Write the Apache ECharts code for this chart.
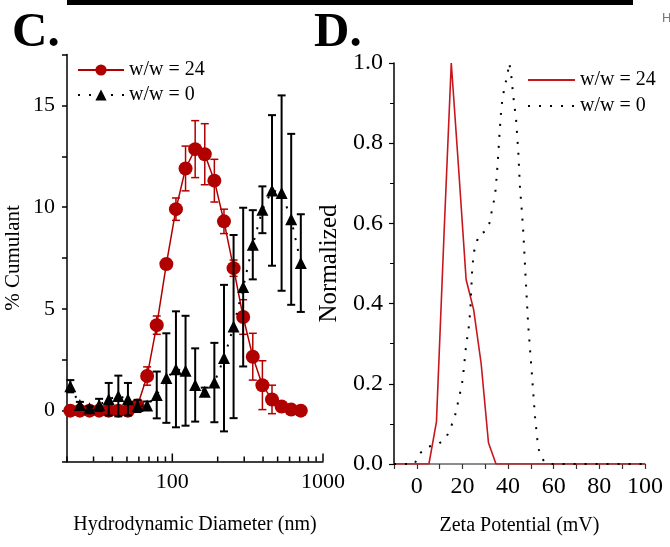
<!DOCTYPE html>
<html>
<head>
<meta charset="utf-8">
<script src="https://cdn.jsdelivr.net/npm/echarts@6/dist/echarts.min.js"></script>
<style>html,body{margin:0;padding:0;background:#fff;}#c{width:670px;height:547px;}</style>
</head>
<body>
<div id="c"></div>
<script>
// ---- Panel C: hydrodynamic diameter distribution ----
const sizeBins = [21.04, 24.36, 28.21, 32.67, 37.84, 43.82, 50.75, 58.77, 68.06, 78.82, 91.28, 105.7, 122.4, 141.8, 164.2, 190.1, 220.2, 255.0, 295.3, 342.0, 396.1, 458.7, 531.2, 615.1, 712.4];
const cumulant24 = [0, 0, 0, 0, 0, 0, 0, 0.25, 1.7, 4.2, 7.2, 9.9, 11.9, 12.85, 12.6, 11.3, 9.3, 7.0, 4.6, 2.65, 1.25, 0.55, 0.2, 0.05, 0];
const cumulant24Err = [0, 0, 0, 0, 0, 0, 0, 0.2, 0.45, 0.45, 0.25, 0.55, 1.1, 1.4, 1.5, 1.05, 0.6, 0.4, 0.85, 1.15, 1.2, 0.7, 0, 0, 0];
const cumulant0 = [1.2, 0.28, 0.12, 0.28, 0.56, 0.72, 0.56, 0.23, 0.25, 0.77, 1.6, 2.03, 1.96, 1.26, 0.93, 1.38, 2.58, 4.13, 6.07, 8.15, 9.87, 10.82, 10.69, 9.4, 7.25];
const cumulant0Err = [0.3, 0.15, 0.1, 0.3, 0.8, 1.0, 0.8, 0.3, 0.2, 1.15, 2.2, 2.85, 2.7, 1.8, 0.2, 1.95, 3.6, 4.5, 3.9, 1.7, 1.15, 3.7, 4.8, 4.2, 2.4];
const diameterLabels = [100, 1000];
const diameterMinorTicks = [20, 30, 40, 50, 60, 70, 80, 90, 200, 300, 400, 500, 600, 700, 800, 900];
const cumulantLabels = [0, 5, 10, 15];

// ---- Panel D: zeta potential distribution ----
const zeta24X = [-10, 5.3, 8.6, 11.9, 15.1, 18.4, 21.6, 24.9, 28.2, 31.4, 34.7, 100];
const zeta24Y = [0, 0, 0.105, 0.57, 1.0, 0.73, 0.46, 0.385, 0.25, 0.053, 0, 0];
const zeta0X = [-10, -1, 1, 5, 9.5, 12.8, 15, 16.8, 18.7, 20.1, 21.5, 22.9, 23.5, 24.3, 25.1, 27.2, 30, 31.8, 33, 34.3, 35, 35.7, 36.3, 37, 37.6, 38.6, 39.7, 40.5, 41.3, 42.3, 43.5, 44.5, 45.2, 46.0, 46.7, 47.7, 48.8, 50.3, 51.8, 52.8, 53.5, 55.4, 57, 100];
const zeta0Y = [0, 0, 0.025, 0.043, 0.05, 0.065, 0.093, 0.122, 0.17, 0.21, 0.29, 0.347, 0.39, 0.49, 0.53, 0.572, 0.58, 0.6, 0.635, 0.67, 0.716, 0.773, 0.829, 0.885, 0.914, 0.943, 0.97, 1.0, 0.974, 0.916, 0.86, 0.775, 0.69, 0.633, 0.575, 0.463, 0.347, 0.234, 0.118, 0.062, 0.035, 0.01, 0, 0];
const zetaLabels = [0, 20, 40, 60, 80, 100];

const FONT = "'Liberation Serif', 'Times New Roman', serif";
const RED = '#b00000';
const RED2 = '#c8161d';
const DOT = [2, 9];

function zip(a, b, c) { return a.map((v, i) => c ? [v, b[i], c[i]] : [v, b[i]]); }

function errRender(color, capHalf, lw) {
  return function (params, api) {
    const x = api.value(0), y = api.value(1), e = api.value(2);
    if (!e) return null;
    const t = api.coord([x, y + e]);
    const b = api.coord([x, y - e]);
    const st = { stroke: color, lineWidth: lw };
    return {
      type: 'group',
      children: [
        { type: 'line', shape: { x1: t[0], y1: t[1], x2: b[0], y2: b[1] }, style: st },
        { type: 'line', shape: { x1: t[0] - capHalf, y1: t[1], x2: t[0] + capHalf, y2: t[1] }, style: st },
        { type: 'line', shape: { x1: b[0] - capHalf, y1: b[1], x2: b[0] + capHalf, y2: b[1] }, style: st }
      ]
    };
  };
}

// inward tick marks for the log diameter axis: x from the axis scale, y at the grid bottom
function tickRender(params, api) {
  const v = api.value(0), len = api.value(2);
  const px = api.coord([v, 0])[0];
  const cs = params.coordSys;
  const yb = cs.y + cs.height;
  return {
    type: 'line',
    shape: { x1: px, y1: yb, x2: px, y2: yb - len },
    style: { stroke: '#000', lineWidth: 1.5 }
  };
}
const tickData = diameterMinorTicks.map(v => [v, 0, 5]).concat(diameterLabels.map(v => [v, 0, 8]));

const chart = echarts.init(document.getElementById('c'), null, { renderer: 'canvas' });

const axisLine = { show: true, onZero: false, lineStyle: { color: '#000', width: 1.5 } };
const labelStyle = { color: '#000', fontFamily: FONT, fontSize: 22 };
const labelStyleD = { color: '#000', fontFamily: FONT, fontSize: 24 };
const nameStyle = { color: '#000', fontFamily: FONT, fontSize: 20 };

chart.setOption({
  animation: false,
  backgroundColor: '#fff',
  graphic: [
    { type: 'rect', shape: { x: 67, y: 0, width: 566, height: 5 }, style: { fill: '#000' } },
    { type: 'text', left: 12, top: 9, style: { text: 'C.', font: 'bold 49px ' + FONT, fill: '#000' } },
    { type: 'text', left: 314, top: 9, style: { text: 'D.', font: 'bold 49px ' + FONT, fill: '#000' } },
    { type: 'text', left: 662, top: 12, style: { text: 'H', font: '13px sans-serif', fill: '#777' } }
  ],
  legend: [
    {
      data: ['w/w = 24', 'w/w = 0'], orient: 'vertical', left: 77, top: 60, padding: 0,
      itemWidth: 46, itemHeight: 14, itemGap: 5,
      textStyle: { color: '#000', fontFamily: FONT, fontSize: 20 }, selectedMode: false
    },
    {
      data: ['w/w = 24 ', 'w/w = 0 '], orient: 'vertical', left: 527, top: 70, padding: 0,
      itemWidth: 47, itemHeight: 14, itemGap: 6,
      itemStyle: { color: 'rgba(0,0,0,0)', borderWidth: 0, opacity: 0 },
      textStyle: { color: '#000', fontFamily: FONT, fontSize: 20 }, selectedMode: false
    }
  ],
  grid: [
    { left: 67, top: 54.5, width: 256, height: 407, containLabel: false },
    { left: 394, top: 63, width: 251, height: 401, containLabel: false }
  ],
  xAxis: [
    {
      gridIndex: 0, type: 'log', logBase: 10, min: 20, max: 1000, position: 'bottom',
      name: 'Hydrodynamic Diameter (nm)', nameLocation: 'middle', nameGap: 53, nameTextStyle: nameStyle,
      axisLine: axisLine,
      axisTick: { show: false },
      axisLabel: { show: true, margin: 10, customValues: diameterLabels, formatter: v => String(Math.round(v)), ...labelStyle },
      splitLine: { show: false }, minorTick: { show: false }
    },
    {
      gridIndex: 1, type: 'value', min: -10, max: 100, interval: 10,
      name: 'Zeta Potential (mV)', nameLocation: 'middle', nameGap: 52, nameTextStyle: nameStyle,
      axisLine: { show: true, onZero: false, lineStyle: { color: '#666', width: 1.5 } },
      axisTick: { show: true, inside: false, length: 5, lineStyle: { color: '#333', width: 1.2 } },
      axisLabel: {
        margin: 11, ...labelStyleD,
        formatter: v => (zetaLabels.indexOf(Math.round(v)) >= 0 ? String(Math.round(v)) : '')
      },
      splitLine: { show: false }
    }
  ],
  yAxis: [
    {
      gridIndex: 0, type: 'value', min: -2.5, max: 17.5, interval: 2.5,
      name: '% Cumulant', nameLocation: 'middle', nameGap: 43, nameTextStyle: { ...nameStyle, fontSize: 21 },
      axisLine: axisLine,
      axisTick: { show: true, inside: false, length: 5, lineStyle: { color: '#000', width: 1.5 } },
      axisLabel: {
        margin: 12, ...labelStyle,
        formatter: v => (cumulantLabels.indexOf(Math.round(v * 10) / 10) >= 0 ? String(Math.round(v)) : '')
      },
      splitLine: { show: false }
    },
    {
      gridIndex: 1, type: 'value', min: 0, max: 1.0, interval: 0.2,
      name: 'Normalized', nameLocation: 'middle', nameGap: 52, nameTextStyle: { ...nameStyle, fontSize: 25 },
      axisLine: axisLine,
      axisTick: { show: true, inside: false, length: 5, lineStyle: { color: '#000', width: 1.2 } },
      minorTick: { show: true, splitNumber: 2, length: 4, lineStyle: { color: '#000', width: 1 } },
      axisLabel: { margin: 11, ...labelStyleD, formatter: v => v.toFixed(1) },
      splitLine: { show: false }, minorSplitLine: { show: false }
    }
  ],
  series: [
    {
      name: 'err24', type: 'custom', xAxisIndex: 0, yAxisIndex: 0, z: 2,
      renderItem: errRender(RED, 4, 1.5), encode: { x: 0, y: 1 },
      data: zip(sizeBins, cumulant24, cumulant24Err), silent: true
    },
    {
      name: 'w/w = 24', type: 'line', xAxisIndex: 0, yAxisIndex: 0, z: 3,
      data: zip(sizeBins, cumulant24), symbol: 'circle', symbolSize: 14,
      lineStyle: { color: RED, width: 1.5 }, itemStyle: { color: RED }, showSymbol: true
    },
    {
      name: 'err0', type: 'custom', xAxisIndex: 0, yAxisIndex: 0, z: 4,
      renderItem: errRender('#000', 4, 2), encode: { x: 0, y: 1 },
      data: zip(sizeBins, cumulant0, cumulant0Err), silent: true
    },
    {
      name: 'w/w = 0', type: 'line', xAxisIndex: 0, yAxisIndex: 0, z: 5,
      data: zip(sizeBins, cumulant0), symbol: 'triangle', symbolSize: 12,
      lineStyle: { color: '#000', width: 2, type: DOT }, itemStyle: { color: '#000' }, showSymbol: true
    },
    {
      name: 'axisTicksC', type: 'custom', xAxisIndex: 0, yAxisIndex: 0, z: 6,
      renderItem: tickRender, encode: { x: 0, y: 1 }, data: tickData, silent: true, clip: false
    },
    {
      name: 'w/w = 24 ', type: 'line', xAxisIndex: 1, yAxisIndex: 1, z: 3,
      data: zip(zeta24X, zeta24Y), symbol: 'none',
      lineStyle: { color: RED2, width: 1.6 }, itemStyle: { color: RED2 }
    },
    {
      name: 'w/w = 0 ', type: 'line', xAxisIndex: 1, yAxisIndex: 1, z: 4,
      data: zip(zeta0X, zeta0Y), symbol: 'none',
      lineStyle: { color: '#000', width: 2, type: DOT }, itemStyle: { color: '#000' }
    }
  ]
});
</script>
</body>
</html>
